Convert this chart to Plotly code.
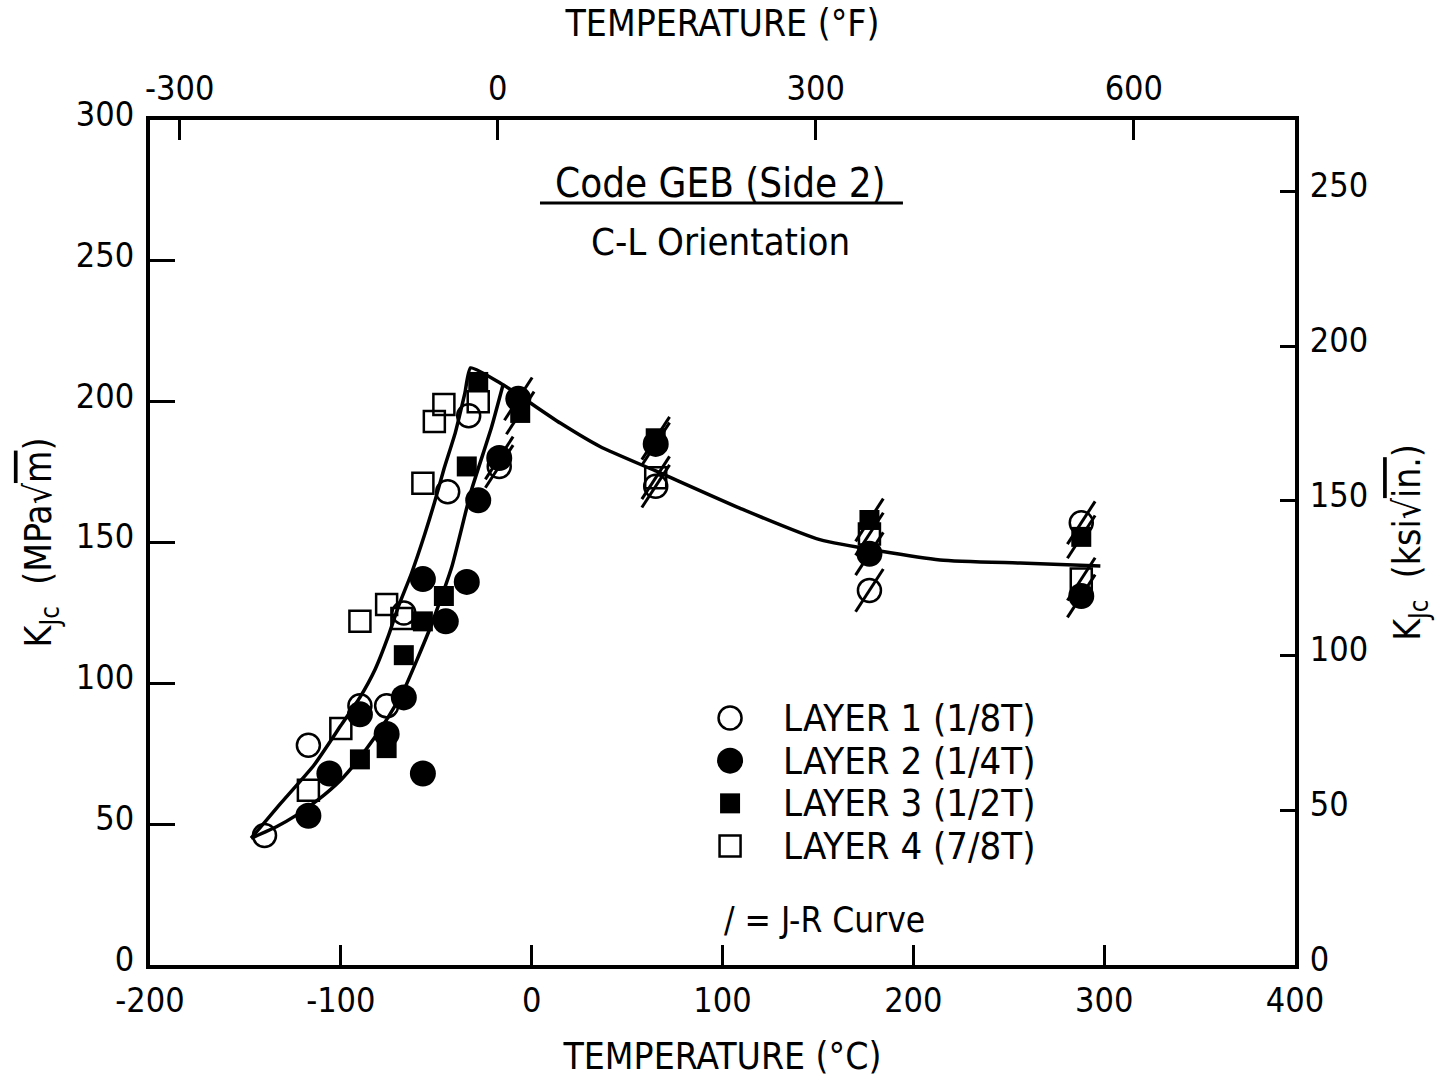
import plotly.graph_objects as go

FONT = "Liberation Sans Narrow, DejaVu Sans Condensed, Arial Narrow, sans-serif"

# ---------------- data ----------------
l1_T = [-140, -117, -90, -76, -67, -44, -33, -17, 65, 177, 288]
l1_K = [46, 78, 92, 92, 125, 168, 195, 177, 170, 133, 157]

l2_T = [-117, -106, -90, -76, -67, -57, -57, -45, -34, -28, -17, -7, 65, 177, 288]
l2_K = [53, 68, 89, 82, 95, 68, 137, 122, 136, 165, 180, 201, 185, 146, 131]

l3_T = [-90, -76, -67, -57, -46, -34, -28, -6, 65, 177, 288]
l3_K = [73, 77, 110, 122, 131, 177, 207, 196, 187, 158, 152]

l4_T = [-117, -100, -90, -76, -68, -57, -51, -46, -28, 65, 177, 288]
l4_K = [62, 84, 122, 128, 123, 171, 193, 199, 200, 173, 153, 137]

jr_min_T = -20  # specimens at/above this temperature evaluated from J-R curve

# fitted curves
# A: lower-shelf curve through layers 1/4, over the peak, then the upper-shelf tail
curveA_T = [-147, -132, -114, -100, -90, -82, -75, -70, -63, -56, -51, -46, -40, -35, -32,
            -15, 15, 36, 65, 109, 151, 214, 256, 298]
curveA_K = [45, 57, 71, 85, 95, 105, 117, 127, 139, 153, 164, 176, 189, 203, 212,
            206, 192.4, 184, 175.4, 162.2, 151, 143.8, 142.7, 141.7]
# B: curve through layers 2/3
curveB_T = [-147, -134, -123, -112, -100, -91, -82, -75, -67, -53, -42, -32, -21, -15]
curveB_K = [45, 49, 53.3, 58.6, 65.7, 72.8, 81, 88.2, 97.6, 120, 141, 167.6, 191, 206]

x_ticks = [-200, -100, 0, 100, 200, 300, 400]
x_ticktext = ["-200", "-100", "0", "100", "200", "300", "400"]
xf_ticks = [-300, 0, 300, 600]
xf_ticktext = ["-300", "0", "300", "600"]
y_ticks = [0, 50, 100, 150, 200, 250, 300]
y_ticktext = ["0", "50", "100", "150", "200", "250", "300"]
yk_ticks = [0, 50, 100, 150, 200, 250]
yk_ticktext = ["0", "50", "100", "150", "200", "250"]

legend_labels = ["LAYER 1 (1/8T)", "LAYER 2 (1/4T)", "LAYER 3 (1/2T)", "LAYER 4 (7/8T)"]

MPA_PER_KSI = 1.0988
X_MIN, X_MAX = -200, 400
Y_MIN, Y_MAX = 0, 300

# ---------------- figure ----------------
fig = go.Figure()
line_style = dict(color="black", width=3.5, shape="spline", smoothing=0.5)
fig.add_trace(go.Scatter(x=curveA_T, y=curveA_K, mode="lines", line=line_style, showlegend=False, hoverinfo="skip"))
fig.add_trace(go.Scatter(x=curveB_T, y=curveB_K, mode="lines", line=line_style, showlegend=False, hoverinfo="skip"))

series = [
    (l1_T, l1_K, dict(symbol="circle-open", size=23, color="black", line=dict(width=2.5, color="black"))),
    (l2_T, l2_K, dict(symbol="circle", size=26, color="black", line=dict(width=0))),
    (l3_T, l3_K, dict(symbol="square", size=20, color="black", line=dict(width=0))),
    (l4_T, l4_K, dict(symbol="square-open", size=21, color="black", line=dict(width=2.5, color="black"))),
]
for (T, K, mk), name in zip(series, legend_labels):
    fig.add_trace(go.Scatter(x=T, y=K, mode="markers", marker=mk, name=name, showlegend=False))

# J-R curve slashes
jr_T, jr_K = [], []
for T, K, _ in series:
    for t, k in zip(T, K):
        if t >= jr_min_T:
            jr_T.append(t)
            jr_K.append(k)
fig.add_trace(go.Scatter(x=jr_T, y=jr_K, mode="markers", showlegend=False, hoverinfo="skip",
                         marker=dict(symbol="line-ne", size=36, angle=-12,
                                     line=dict(width=3, color="black"))))

# dummy traces for secondary axes
fig.add_trace(go.Scatter(x=[X_MIN * 1.8 + 32], y=[0], xaxis="x2", yaxis="y", mode="markers",
                         marker=dict(opacity=0), showlegend=False, hoverinfo="skip"))
fig.add_trace(go.Scatter(x=[X_MIN], y=[0], xaxis="x", yaxis="y2", mode="markers",
                         marker=dict(opacity=0), showlegend=False, hoverinfo="skip"))

# legend drawn on an overlay axis pair (range 0..1 over the plot area)
leg_x, leg_top, leg_step, leg_text_x = 0.5066, 0.2923, 0.0505, 0.5510
leg_y = [leg_top - i * leg_step for i in range(len(legend_labels))]
for (T, K, mk), y in zip(series, leg_y):
    fig.add_trace(go.Scatter(x=[leg_x], y=[y], xaxis="x3", yaxis="y3", mode="markers",
                             marker=mk, showlegend=False, hoverinfo="skip"))

tick_font = dict(family=FONT, size=34, color="black")
title_font = dict(family=FONT, size=37, color="black")
axis_common = dict(showline=True, linewidth=4, linecolor="black", ticks="inside",
                   tickwidth=3, tickcolor="black", showgrid=False, zeroline=False,
                   tickfont=tick_font, automargin=False)

fig.update_layout(
    width=1437, height=1078,
    margin=dict(l=150, r=142, t=120, b=113, autoexpand=False),
    paper_bgcolor="white", plot_bgcolor="white",
    font=dict(family=FONT, color="black"),
    showlegend=False,
    xaxis=dict(range=[X_MIN, X_MAX], tickvals=x_ticks, ticktext=x_ticktext, ticklen=20,
               ticklabelstandoff=2,
               title=dict(text="TEMPERATURE (°C)", font=title_font, standoff=26),
               **axis_common),
    xaxis2=dict(range=[X_MIN * 1.8 + 32, X_MAX * 1.8 + 32], overlaying="x", side="top",
                tickvals=xf_ticks, ticktext=xf_ticktext, ticklen=20, ticklabelstandoff=2,
                title=dict(text="TEMPERATURE (°F)", font=title_font, standoff=21),
                anchor="y", **axis_common),
    yaxis=dict(range=[Y_MIN, Y_MAX], tickvals=y_ticks, ticktext=y_ticktext, ticklen=25,
               ticklabelstandoff=5, ticklabelshift=-6,
               title=dict(text="K<sub>Jc</sub>  (MPa√<span style='text-decoration:overline'>m</span>)",
                          font=title_font, standoff=14),
               **axis_common),
    yaxis2=dict(range=[Y_MIN / MPA_PER_KSI, Y_MAX / MPA_PER_KSI], overlaying="y", side="right",
                tickvals=yk_ticks, ticktext=yk_ticktext, ticklen=15, ticklabelstandoff=4,
                ticklabelshift=-6,
                title=dict(text="K<sub>Jc</sub>  (ksi√<span style='text-decoration:overline'>in.</span>)",
                           font=title_font, standoff=28),
                anchor="x", **axis_common),
    xaxis3=dict(range=[0, 1], overlaying="x", visible=False, anchor="y3"),
    yaxis3=dict(range=[0, 1], overlaying="y", visible=False, anchor="x3"),
)

annotations = [
    dict(text="Code GEB (Side 2)", x=0.498, y=0.925, xref="paper", yref="paper",
         xanchor="center", yanchor="middle", showarrow=False, font=dict(family=FONT, size=40, color="black")),
    dict(text="C-L Orientation", x=0.498, y=0.856, xref="paper", yref="paper",
         xanchor="center", yanchor="middle", showarrow=False, font=dict(family=FONT, size=38, color="black")),
    dict(text="/ = J-R Curve", x=(722 - 150) / 1145, y=(965 - 920) / 845, xref="paper", yref="paper",
         xanchor="left", yanchor="middle", showarrow=False, font=dict(family=FONT, size=35, color="black")),
]
for lab, y in zip(legend_labels, leg_y):
    annotations.append(dict(text=lab, x=leg_text_x, y=y, xref="paper", yref="paper",
                            xanchor="left", yanchor="middle", showarrow=False,
                            font=dict(family=FONT, size=38, color="black")))
fig.update_layout(annotations=annotations)

fig.add_shape(type="line", xref="paper", yref="paper", x0=0.3406, x1=0.6576, y0=0.9018, y1=0.9018,
              line=dict(color="black", width=3))

fig.write_html("out.html")
